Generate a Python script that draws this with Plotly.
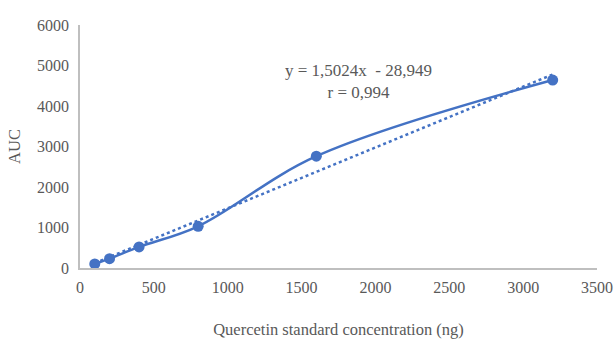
import plotly.graph_objects as go

conc = [100, 200, 400, 800, 1600, 3200]
auc = [100, 230, 520, 1030, 2760, 4640]
slope = 1.5024
intercept = -28.949
trend_x = [100, 3200]
trend_y = [slope * x + intercept for x in trend_x]
x_ticks = [0, 500, 1000, 1500, 2000, 2500, 3000, 3500]
y_ticks = [0, 1000, 2000, 3000, 4000, 5000, 6000]

blue = "#4472C4"
gray = "#595959"
font = "Liberation Serif, Times New Roman, serif"

fig = go.Figure()
fig.add_trace(go.Scatter(x=trend_x, y=trend_y, mode="lines",
                         line=dict(color=blue, width=2.5, dash="dot"), showlegend=False))
fig.add_trace(go.Scatter(x=conc, y=auc, mode="lines+markers",
                         line=dict(color=blue, width=2.5, shape="spline", smoothing=1.0),
                         marker=dict(color=blue, size=11), showlegend=False))

fig.add_annotation(x=0.685, y=0.86, xref="paper", yref="paper",
                   text="y = 1,5024x  - 28,949<br>r = 0,994", showarrow=False,
                   font=dict(family=font, size=17, color=gray), align="center")

fig.update_layout(
    width=614, height=342,
    margin=dict(l=80, r=17, t=25, b=74, autoexpand=False),
    plot_bgcolor="white", paper_bgcolor="white",
    font=dict(family=font, color=gray, size=16),
    xaxis=dict(range=[0, 3500], tickvals=x_ticks, showgrid=False, zeroline=False,
               showline=True, linecolor="#BFBFBF", linewidth=1.5, ticks="",
               automargin=False, tickfont=dict(size=16, color=gray),
               ticklabeloverflow="allow", ticklabelstandoff=4,
               title=dict(text="Quercetin standard concentration (ng)", standoff=28,
                          font=dict(size=16.5, color=gray))),
    yaxis=dict(range=[0, 6000], tickvals=y_ticks, showgrid=False, zeroline=False,
               showline=True, linecolor="#BFBFBF", linewidth=1.5, ticks="",
               automargin=False, tickfont=dict(size=16, color=gray),
               ticklabelstandoff=6,
               title=dict(text="AUC", standoff=12, font=dict(size=16.5, color=gray))),
)
fig.write_html("out.html", config={"displayModeBar": False},
               post_script="document.body.style.margin='0';document.body.style.overflow='hidden';")
